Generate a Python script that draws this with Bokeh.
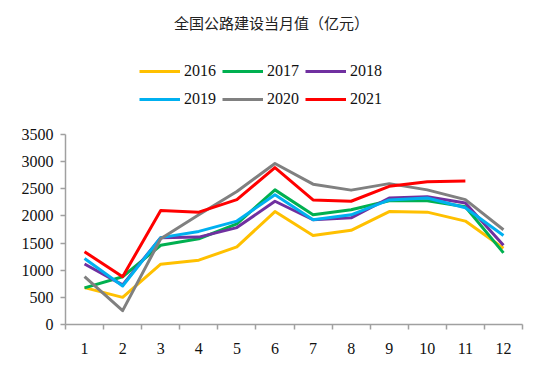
from bokeh.plotting import figure
from bokeh.models import Legend, LegendItem, FixedTicker, Range1d, Label
from bokeh.embed import file_html
from bokeh.resources import INLINE

months = list(range(1, 13))
month_labels = [str(m) for m in months]
y_ticks = [0, 500, 1000, 1500, 2000, 2500, 3000, 3500]

v2016 = [680, 500, 1110, 1185, 1430, 2080, 1640, 1735, 2080, 2070, 1905, 1405]
v2017 = [675, 880, 1460, 1580, 1855, 2480, 2020, 2115, 2280, 2280, 2170, 1320]
v2018 = [1115, 730, 1600, 1610, 1785, 2270, 1930, 1965, 2330, 2355, 2240, 1460]
v2019 = [1215, 710, 1600, 1715, 1905, 2390, 1930, 2020, 2295, 2330, 2150, 1640]
v2020 = [880, 255, 1580, 2020, 2450, 2965, 2585, 2475, 2595, 2480, 2300, 1745]
v2021 = [1340, 880, 2100, 2070, 2300, 2890, 2295, 2270, 2545, 2630, 2645]

series = [
    ("2016", v2016, "#FFC000"),
    ("2017", v2017, "#00B050"),
    ("2018", v2018, "#7030A0"),
    ("2019", v2019, "#00B0F0"),
    ("2020", v2020, "#808080"),
    ("2021", v2021, "#FF0000"),
]

W, H = 550, 365
left, right, bottom = 65, 28, 41
axis_top_px = 134          # pixel row of the 3500 tick
frame_h = H - bottom       # frame spans from top of figure to x-axis
y_max = y_ticks[-1] * frame_h / (frame_h - axis_top_px)

p = figure(width=W, height=H, output_backend="svg", toolbar_location=None,
           x_range=Range1d(0.5, 12.5), y_range=Range1d(0, y_max),
           min_border_left=left, min_border_right=right, min_border_bottom=bottom,
           min_border_top=0)
p.outline_line_color = None
p.grid.grid_line_color = None

items = {}
for name, vals, color in series:
    r = p.line(months[:len(vals)], vals, line_color=color, line_width=3, line_join="round")
    items[name] = LegendItem(label=name, renderers=[r])

# legend is filled column by column: order so that rows read 2016 2017 2018 / 2019 2020 2021
legend_order = ["2016", "2019", "2017", "2020", "2018", "2021"]

font = "Liberation Serif"
p.xaxis.ticker = FixedTicker(ticks=months, minor_ticks=[m + 0.5 for m in range(0, 13)])
p.xaxis.major_label_overrides = {m: l for m, l in zip(months, month_labels)}
p.xaxis.major_tick_line_color = None
p.xaxis.minor_tick_line_color = "#A0A0A0"
p.xaxis.minor_tick_out = 5
p.xaxis.minor_tick_in = 0
p.xaxis.minor_tick_line_width = 1.5
p.xaxis.major_label_standoff = 12

p.yaxis.ticker = FixedTicker(ticks=y_ticks, minor_ticks=[])
p.yaxis.bounds = (y_ticks[0], y_ticks[-1])
p.yaxis.major_tick_line_color = "#A0A0A0"
p.yaxis.major_tick_out = 5
p.yaxis.major_tick_in = 0
p.yaxis.major_tick_line_width = 1.5
p.yaxis.major_label_standoff = 7

for ax in (p.xaxis, p.yaxis):
    ax.axis_line_color = "#A0A0A0"
    ax.axis_line_width = 1.5
    ax.major_label_text_font = font
    ax.major_label_text_font_size = "16px"
    ax.major_label_text_color = "#111111"

legend = Legend(items=[items[k] for k in legend_order], ncols=3,
                label_text_font=font, label_text_font_size="16px",
                label_text_color="#111111",
                glyph_width=41, glyph_height=22, label_height=22, label_standoff=4,
                spacing=6, padding=4, margin=0,
                border_line_color=None, background_fill_alpha=0,
                location=(74, frame_h - 110))
p.add_layout(legend, "center")

title = Label(x=206, y=frame_h - 22, x_units="screen", y_units="screen",
              text="全国公路建设当月值（亿元）", text_align="center", text_baseline="middle",
              text_font="Noto Sans CJK SC", text_font_size="15px", text_color="#222222")
p.add_layout(title)

open("out.html", "w").write(file_html(p, INLINE))
